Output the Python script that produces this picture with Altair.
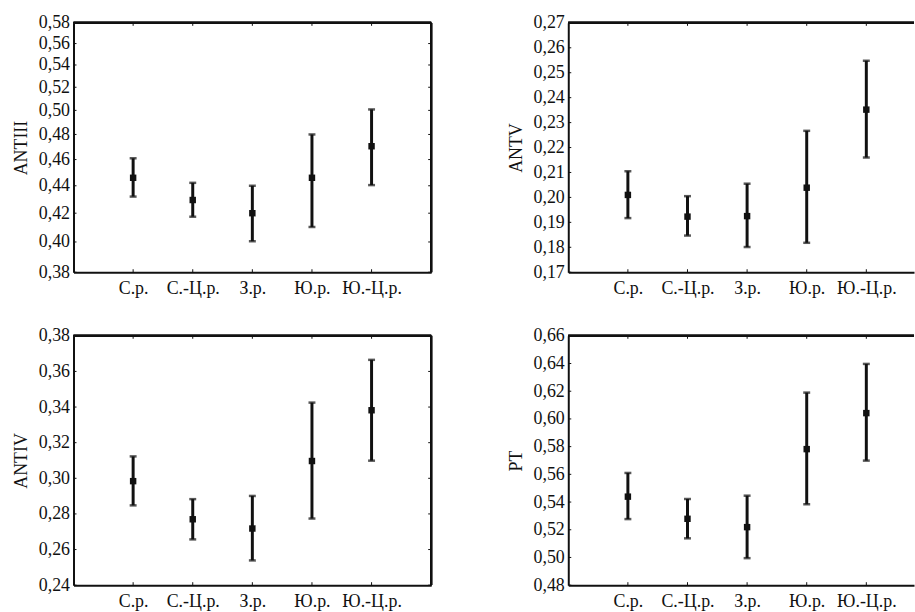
import json
import altair as alt
import pandas as pd

regions = ["С.р.", "С.-Ц.р.", "З.р.", "Ю.р.", "Ю.-Ц.р."]

# ANTIII (log-scaled axis)
antiii_mean = [0.446, 0.4295, 0.420, 0.446, 0.4705]
antiii_low = [0.432, 0.4175, 0.4005, 0.4103, 0.4405]
antiii_high = [0.461, 0.4422, 0.440, 0.480, 0.5008]
antiii_ticks = [0.38, 0.40, 0.42, 0.44, 0.46, 0.48, 0.50, 0.52, 0.54, 0.56, 0.58]

# ANTV
antv_mean = [0.2010, 0.1923, 0.1925, 0.2039, 0.2352]
antv_low = [0.1917, 0.1847, 0.1801, 0.1818, 0.2160]
antv_high = [0.2105, 0.2005, 0.2055, 0.2267, 0.2548]
antv_ticks = [0.17, 0.18, 0.19, 0.20, 0.21, 0.22, 0.23, 0.24, 0.25, 0.26, 0.27]

# ANTIV
antiv_mean = [0.2984, 0.2770, 0.2718, 0.3097, 0.3382]
antiv_low = [0.2848, 0.2657, 0.2539, 0.2774, 0.3099]
antiv_high = [0.3123, 0.2883, 0.2901, 0.3425, 0.3665]
antiv_ticks = [0.24, 0.26, 0.28, 0.30, 0.32, 0.34, 0.36, 0.38]

# PT
pt_mean = [0.5439, 0.5279, 0.5219, 0.5782, 0.6042]
pt_low = [0.5277, 0.5138, 0.4995, 0.5384, 0.5699]
pt_high = [0.5610, 0.5422, 0.5446, 0.6190, 0.6397]
pt_ticks = [0.48, 0.50, 0.52, 0.54, 0.56, 0.58, 0.60, 0.62, 0.64, 0.66]

FONT = "Times New Roman, Liberation Serif, DejaVu Serif, serif"
FS = 18
H = 251
STEP = 60
INK = "#111111"

label_expr_x = "%s[datum.value - 1]" % json.dumps(regions, ensure_ascii=False)
label_expr_y = "replace(format(datum.value, '.2f'), '.', ',')"


def panel(name, means, lows, highs, ticks, log=False, right=False):
    w = 348 if right else 360
    df = pd.DataFrame({"idx": list(range(1, len(regions) + 1)), "region": regions,
                       "mean": means, "lo": lows, "hi": highs})
    tdf = pd.DataFrame({"v": ticks})
    xs = alt.Scale(domain=[0, w / STEP], nice=False, zero=False)
    if log:
        ys = alt.Scale(type="log", domain=[ticks[0], ticks[-1]], nice=False)
    else:
        ys = alt.Scale(domain=[ticks[0], ticks[-1]], nice=False, zero=False)

    xaxis = alt.Axis(values=list(range(1, len(regions) + 1)), labelExpr=label_expr_x,
                     ticks=False, grid=False, title=None, domain=True, domainWidth=2,
                     domainColor=INK, labelFont=FONT, labelFontSize=FS, labelColor=INK,
                     labelPadding=7)
    yaxis = alt.Axis(values=ticks, labelExpr=label_expr_y, ticks=False, grid=False,
                     title=name, titleFont=FONT, titleFontSize=FS, titleFontWeight="normal",
                     titleColor=INK, titlePadding=8, domain=True, domainWidth=2,
                     domainColor=INK, labelFont=FONT, labelFontSize=FS, labelColor=INK,
                     labelPadding=4, labelOverlap=False, labelFlush=False)

    def X(f):
        return alt.X(f, scale=xs, axis=xaxis, title=None)

    def Y(f):
        return alt.Y(f, scale=ys, axis=yaxis, title=name)

    base = alt.Chart(df)
    bars = base.mark_rule(color=INK, strokeWidth=3).encode(
        x=X("idx:Q"), y=Y("lo:Q"), y2="hi:Q")
    cap_lo = base.mark_tick(color=INK, orient="horizontal", size=7, thickness=2.5).encode(
        x=X("idx:Q"), y=Y("lo:Q"))
    cap_hi = base.mark_tick(color=INK, orient="horizontal", size=7, thickness=2.5).encode(
        x=X("idx:Q"), y=Y("hi:Q"))
    pts = base.mark_square(color=INK, size=42, opacity=1).encode(
        x=X("idx:Q"), y=Y("mean:Q"))

    layers = [bars, cap_lo, cap_hi, pts]

    # inward ticks
    tk = alt.Chart(tdf)
    layers.append(tk.mark_rule(color=INK, strokeWidth=1).encode(
        x=alt.value(0), x2=alt.value(3), y=Y("v:Q")))
    layers.append(base.mark_rule(color=INK, strokeWidth=1).encode(
        x=X("idx:Q"), y=alt.value(0), y2=alt.value(3)))
    layers.append(base.mark_rule(color=INK, strokeWidth=1).encode(
        x=X("idx:Q"), y=alt.value(H - 3), y2=alt.value(H)))
    # top border
    layers.append(base.mark_rule(color=INK, strokeWidth=2).encode(
        x=alt.value(0), x2=alt.value(w), y=alt.value(0)))
    if not right:
        layers.append(tk.mark_rule(color=INK, strokeWidth=1).encode(
            x=alt.value(w - 3), x2=alt.value(w), y=Y("v:Q")))
        layers.append(base.mark_rule(color=INK, strokeWidth=2).encode(
            x=alt.value(w), y=alt.value(0), y2=alt.value(H)))

    return alt.layer(*layers).properties(width=w, height=H)


top = alt.hconcat(
    panel("ANTIII", antiii_mean, antiii_low, antiii_high, antiii_ticks, log=True),
    panel("ANTV", antv_mean, antv_low, antv_high, antv_ticks, right=True),
    spacing=75,
)
bottom = alt.hconcat(
    panel("ANTIV", antiv_mean, antiv_low, antiv_high, antiv_ticks),
    panel("PT", pt_mean, pt_low, pt_high, pt_ticks, right=True),
    spacing=75,
)

chart = alt.vconcat(top, bottom, spacing=30).properties(
    padding={"left": 12, "top": 12, "right": 0, "bottom": 0},
    background="white",
).configure_view(strokeWidth=0)

chart.save("out.html", embed_options={"renderer": "svg", "actions": False})
